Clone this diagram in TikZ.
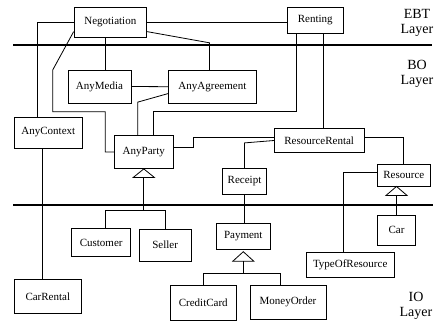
\documentclass[tikz,border=0pt]{standalone}
\usepackage{fontspec}
\setmainfont{Liberation Serif}
\usetikzlibrary{calc}

\begin{document}
\begin{tikzpicture}[x=1pt, y=-1pt, line width=0.8pt,
    box/.style 2 args={draw, inner sep=0pt, minimum width=#1, minimum height=#2, font=\fontsize{11}{13}\selectfont},
    layer/.style={align=center, font=\fontsize{14}{15.5}\selectfont}]

    \useasboundingbox (0,0) rectangle (441,333);

    %layers
    \draw[line width=2pt] (13,45) -- (432,45);
    \draw[line width=2pt] (13,205) -- (433,205);
    \node[layer] (ebtlabel) at (417,23) {EBT\\Layer};
    \node[layer] (bolabel) at (417,74) {BO\\Layer};
    \node[layer] (iolabel) at (416,306) {IO\\Layer};

    %EBT
    \node[box={72.5pt}{30pt}] (neg) at (110.3,22.2) {Negotiation};
    \node[box={56pt}{26pt}] (rent) at (315.2,20) {Renting};

    %BO
    \node[box={63pt}{33pt}] (media) at (99.5,86.5) {AnyMedia};
    \node[box={88pt}{33pt}] (agree) at (212.4,86.7) {AnyAgreement};
    \node[box={68.7pt}{31pt}] (ctx) at (48.3,132.5) {AnyContext};
    \node[box={59pt}{33pt}] (party) at (143.8,152) {AnyParty};
    \node[box={89.7pt}{24.4pt}] (rental) at (319.2,140.5) {ResourceRental};
    \node[box={44.4pt}{26pt}] (receipt) at (244.5,181.3) {Receipt};
    \node[box={52.3pt}{21.7pt}] (resource) at (403.8,175.2) {Resource};

    %IO
    \node[box={59pt}{28.4pt}] (customer) at (101.2,242.5) {Customer};
    \node[box={51.7pt}{31.7pt}] (seller) at (165.2,245.2) {Seller};
    \node[box={53.3pt}{26pt}] (payment) at (243.3,236.3) {Payment};
    \node[box={65.3pt}{35pt}] (credit) at (203.3,302.5) {CreditCard};
    \node[box={76pt}{34.3pt}] (money) at (288,302.2) {MoneyOrder};
    \node[box={88.3pt}{25pt}] (typeres) at (350.2,264.8) {TypeOfResource};
    \node[box={38.3pt}{30pt}] (car) at (396.5,230) {Car};
    \node[box={67.7pt}{34pt}] (carrental) at (47.8,296.3) {CarRental};

    %negotiation
    \draw (neg.east) -- (neg.east -| rent.west);
    \draw ($(neg.south east)+(0,-6)$) -- ($(agree.north)+(-3,-27)$) -- ($(agree.north)+(-3,0)$);
    \draw ([xshift=-5pt]neg.south) -- ([xshift=-5pt]neg.south |- media.north);
    \draw (neg.west) -| ([xshift=-11pt]ctx.north);
    \draw ($(neg.south west)+(0,-6)$) -- (52.7,70) |- (105.3,111.7) |- (party.west);

    %renting
    \draw ([xshift=-19pt]rent.south) |- ($([xshift=10pt]party.north)+(0,-24)$) -- ([xshift=10pt]party.north);
    \draw ([xshift=8pt]rent.south) -- ([xshift=8pt]rent.south |- rental.north);

    %agreement, party
    \draw (media.east) -- (agree.west);
    \draw ($(agree.south west)+(0,-10)$) -- ($([xshift=-6pt]party.north)+(0,-33)$) -- ([xshift=-6pt]party.north);
    \draw ([yshift=5pt]party.east) -| ($(rental.west)+(-81,-3.2)$) -- ($(rental.west)+(0,-3.2)$);

    %rental
    \draw (rental.west) -- ($(receipt.north)+(0,-25)$) -- (receipt.north);
    \draw ([yshift=3pt]rental.east) -| (resource.north);
    \draw ([yshift=2.5pt]resource.west) -| ([xshift=-7pt]typeres.north);
    \draw ([xshift=-5.5pt]ctx.south) -- ([xshift=-5.5pt]ctx.south |- carrental.north);
    \draw (receipt.south) -- (receipt.south |- payment.north);

    %isa party
    \draw (party.south) -- ++(-10.5,8.5) -- ++(21,0) -- cycle;
    \coordinate (partyisa) at ($(party.south)+(0,8.5)$);
    \coordinate (partyjoin) at ($(party.south)+(0,41.7)$);
    \draw (partyisa) -- (partyjoin);
    \draw ([xshift=4.5pt]customer.north) |- (partyjoin) -| (seller.north);

    %isa resource
    \draw (resource.south -| car.north) -- ++(-10.5,9) -- ++(21,0) -- cycle;
    \draw ($(resource.south -| car.north)+(0,9)$) -- (car.north);

    %isa payment
    \draw ($(payment.south)+(0,2)$) -- ++(-10.5,9.5) -- ++(21,0) -- cycle;
    \coordinate (payisa) at ($(payment.south)+(0,11.5)$);
    \coordinate (payjoin) at ($(payment.south)+(0,23.4)$);
    \draw (payisa) -- (payjoin);
    \draw (credit.north) |- (payjoin) -| ([xshift=-8pt]money.north);

\end{tikzpicture}
\end{document}
